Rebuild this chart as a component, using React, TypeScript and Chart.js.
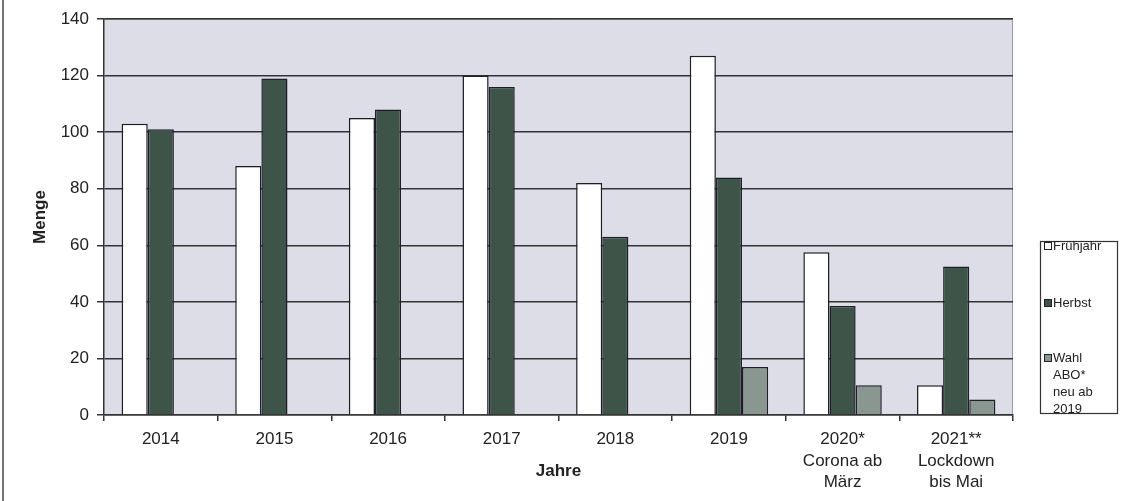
import React, { useEffect, useRef } from "react";
import { Chart, registerables } from "chart.js";

Chart.register(...registerables);

const categories: (string | string[])[] = [
  "2014",
  "2015",
  "2016",
  "2017",
  "2018",
  "2019",
  ["2020*", "Corona ab", "März"],
  ["2021**", "Lockdown", "bis Mai"],
];
const fruehjahr = [103, 88, 105, 120, 82, 127, 57.5, 10.5];
const herbst = [101, 119, 108, 116, 63, 84, 38.5, 52.5];
const wahlAbo = [null, null, null, null, null, 17, 10.5, 5.5];
const seriesLabels = ["Frühjahr", "Herbst", "Wahl ABO* neu ab 2019"];
const legendLines = [["Frühjahr"], ["Herbst"], ["Wahl", "ABO*", "neu ab", "2019"]];
const yTicks = [0, 20, 40, 60, 80, 100, 120, 140];
const xTitle = "Jahre";
const yTitle = "Menge";

const FONT = "'Liberation Sans', Arial, sans-serif";
const colors = ["#ffffff", "#3e5448", "#8a9690"];

const bgPlugin = {
  id: "bgPlugin",
  beforeDraw(chart: any) {
    const { ctx, chartArea: a } = chart;
    ctx.save();
    ctx.fillStyle = "#ffffff";
    ctx.fillRect(0, 0, chart.width, chart.height);
    ctx.fillStyle = "#dcdde6";
    ctx.fillRect(a.left, a.top, a.right - a.left, a.bottom - a.top);
    ctx.strokeStyle = "#9a9aa4";
    ctx.lineWidth = 1;
    ctx.beginPath();
    ctx.moveTo(a.left, a.top + 0.5);
    ctx.lineTo(a.right - 0.5, a.top + 0.5);
    ctx.lineTo(a.right - 0.5, a.bottom);
    ctx.stroke();
    // outer frame left line
    ctx.strokeStyle = "#444";
    ctx.lineWidth = 1.5;
    ctx.beginPath();
    ctx.moveTo(3, 0);
    ctx.lineTo(3, chart.height);
    ctx.stroke();
    ctx.restore();
  },
  afterDraw(chart: any) {
    const { ctx, chartArea: a } = chart;
    ctx.save();
    // axis titles
    ctx.fillStyle = "#222";
    ctx.font = `bold 17px ${FONT}`;
    ctx.textAlign = "center";
    ctx.textBaseline = "middle";
    ctx.fillText(xTitle, (a.left + a.right) / 2, 471);
    ctx.save();
    ctx.translate(40, (a.top + a.bottom) / 2);
    ctx.rotate(-Math.PI / 2);
    ctx.fillText(yTitle, 0, 0);
    ctx.restore();
    // legend box
    const bx = 1040, by = 241, bw = 77, bh = 172;
    ctx.strokeStyle = "#333";
    ctx.lineWidth = 1.2;
    ctx.strokeRect(bx + 0.5, by + 0.5, bw, bh);
    ctx.font = `13px ${FONT}`;
    ctx.textBaseline = "middle";
    ctx.textAlign = "left";
    const ys = [246, 303, 358];
    legendLines.forEach((lines, i) => {
      const y = ys[i];
      ctx.fillStyle = colors[i];
      ctx.fillRect(bx + 4, y - 4, 8, 8);
      ctx.strokeStyle = "#222";
      ctx.lineWidth = 1;
      ctx.strokeRect(bx + 4.5, y - 3.5, 7, 7);
      ctx.fillStyle = "#222";
      lines.forEach((t, j) => {
        ctx.fillText(t, bx + 13, y + j * 17);
      });
    });
    ctx.restore();
  },
};

export default function App() {
  const ref = useRef<HTMLCanvasElement>(null);
  useEffect(() => {
    if (!ref.current) return;
    const chart = new Chart(ref.current, {
      type: "bar",
      data: {
        labels: categories,
        datasets: [fruehjahr, herbst, wahlAbo].map((d, i) => ({
          label: seriesLabels[i],
          data: d as any,
          backgroundColor: colors[i],
          borderColor: "#1e1e28",
          borderWidth: 1.5,
          categoryPercentage: 0.69,
          barPercentage: 1,
          grouped: true,
          skipNull: false,
        })),
      },
      options: {
        animation: false,
        responsive: false,
        maintainAspectRatio: false,
        layout: { padding: { top: 19, right: 116, left: 0, bottom: 0 } },
        plugins: { legend: { display: false }, tooltip: { enabled: false } },
        scales: {
          x: {
            grid: {
              offset: true,
              drawOnChartArea: false,
              drawTicks: true,
              tickLength: 6,
              color: "#333",
              lineWidth: 1.5,
            },
            border: { display: true, color: "#333", width: 1.5 },
            ticks: {
              color: "#222",
              font: { family: FONT, size: 17, lineHeight: 1.25 },
              padding: 8,
              maxRotation: 0,
              autoSkip: false,
            },
            afterFit(scale: any) {
              scale.height = 86;
            },
          },
          y: {
            min: 0,
            max: 140,
            afterBuildTicks(scale: any) {
              scale.ticks = yTicks.map((v) => ({ value: v }));
            },
            grid: {
              color: "#333",
              lineWidth: 1.5,
              drawTicks: true,
              tickLength: 7,
            },
            border: { display: true, color: "#333", width: 1.5 },
            ticks: {
              color: "#222",
              font: { family: FONT, size: 17 },
              padding: 8,
            },
            afterFit(scale: any) {
              scale.width = 104;
            },
          },
        },
      },
      plugins: [bgPlugin],
    });
    return () => chart.destroy();
  }, []);
  return (
    <div style={{ position: "fixed", left: 0, top: 0, width: 1129, height: 501 }}>
      <canvas ref={ref} width={1129} height={501} style={{ width: 1129, height: 501 }} />
    </div>
  );
}
